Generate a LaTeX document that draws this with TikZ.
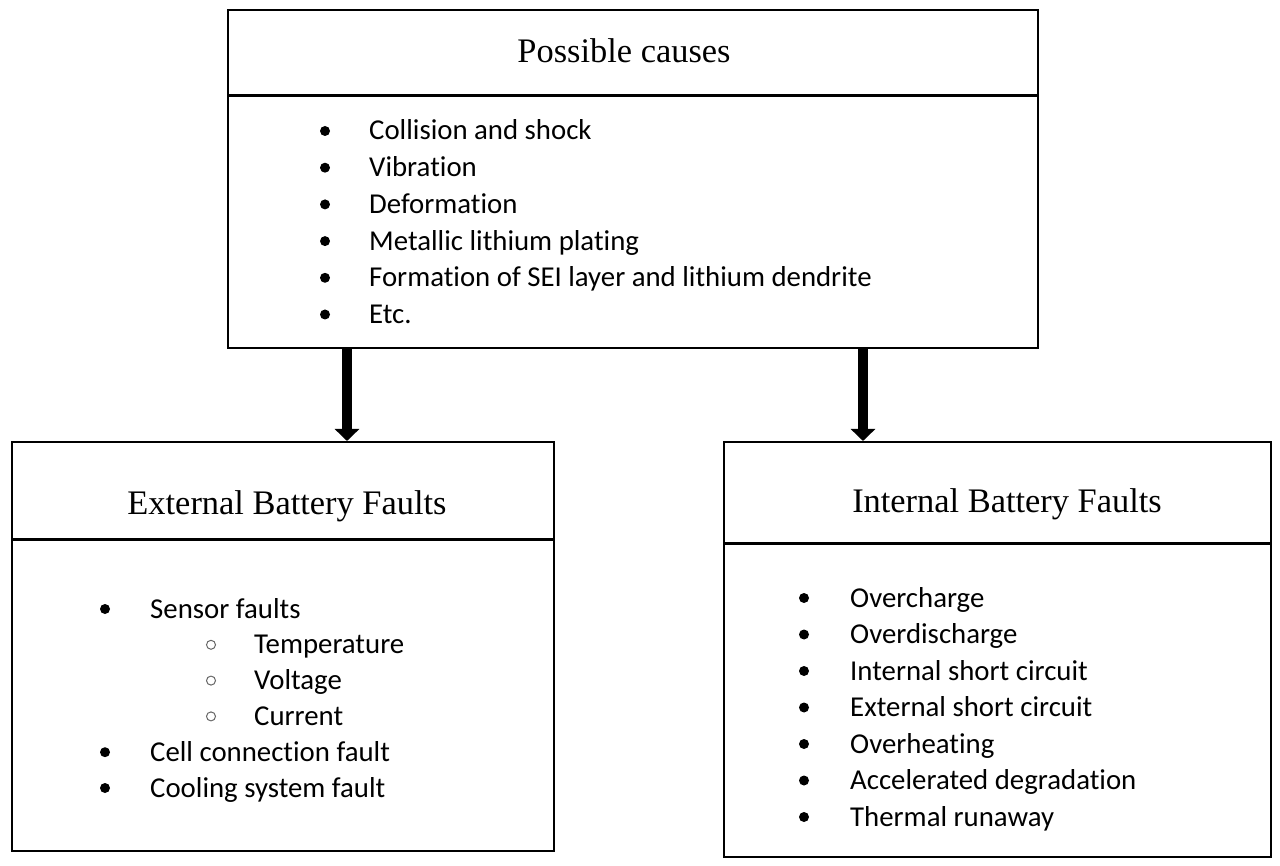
\documentclass[tikz,border=0pt]{standalone}
\usepackage{fontspec}
\setmainfont{Liberation Serif}
\newfontfamily\listfont[Ligatures=NoCommon]{Carlito}
\usetikzlibrary{arrows.meta}

\tikzset{
    box/.style={draw, line width=2pt, inner sep=0pt},
    divider/.style={line width=3pt},
    heading/.style={anchor=base, inner sep=0pt, font=\fontsize{34.4}{40}\selectfont},
    item/.style={anchor=base west, inner sep=0pt, font=\listfont\fontsize{28.8}{34}\selectfont},
    dot/.style={circle, fill, inner sep=0pt, minimum size=10pt},
    ring/.style={circle, draw=black!60, line width=1pt, inner sep=0pt, minimum size=9pt},
    bigarrow/.style={line width=10pt, -{Triangle[width=24pt,length=12pt]}}
}

\begin{document}
\begin{tikzpicture}[x=1pt, y=-1pt]
    \useasboundingbox (0,0) rectangle (1280,866);
    % boxes
    \node[box, minimum width=810pt, minimum height=338pt] (causes) at (633,179) {};
    \node[box, minimum width=542pt, minimum height=409pt] (ext) at (283,646.5) {};
    \node[box, minimum width=547pt, minimum height=415pt] (int) at (997.5,649.5) {};
    \draw[divider] (causes.west |- 0,96) -- (causes.east |- 0,96);
    \draw[divider] (ext.west |- 0,539) -- (ext.east |- 0,539);
    \draw[divider] (int.west |- 0,543) -- (int.east |- 0,543);
    % headings
    \node[heading] (causestitle) at (624,63) {Possible causes};
    \node[heading] (exttitle) at (287,514) {External Battery Faults};
    \node[heading] (inttitle) at (1007,512) {Internal Battery Faults};
    % arrows
    \draw[bigarrow] (causes.south -| 347,0) -- (ext.north -| 347,0);
    \draw[bigarrow] (causes.south -| 863,0) -- (int.north -| 863,0);
    % possible causes
    \foreach \txt [count=\i from 0] in {Collision and shock, Vibration, Deformation,
        Metallic lithium plating, Formation of SEI layer and lithium dendrite, Etc.} {
        \node[dot] (cdot\i) at (325, 131+36.7*\i) {};
        \node[item] (citem\i) at (369, 140+36.7*\i) {\txt};
    }
    % external faults
    \foreach \lvl/\txt [count=\i from 0] in {1/Sensor faults, 2/Temperature, 2/Voltage,
        2/Current, 1/Cell connection fault, 1/Cooling system fault} {
        \ifnum\lvl=1
            \node[dot] (edot\i) at (105, 609+35.8*\i) {};
            \node[item] (eitem\i) at (150, 618+35.8*\i) {\txt};
        \else
            \node[ring] (edot\i) at (211, 609+35.8*\i) {};
            \node[item] (eitem\i) at (254, 618+35.8*\i) {\txt};
        \fi
    }
    % internal faults
    \foreach \txt [count=\i from 0] in {Overcharge, Overdischarge, Internal short circuit,
        External short circuit, Overheating, Accelerated degradation, Thermal runaway} {
        \node[dot] (idot\i) at (804, 598+36.5*\i) {};
        \node[item] (iitem\i) at (850, 607+36.5*\i) {\txt};
    }
\end{tikzpicture}
\end{document}
